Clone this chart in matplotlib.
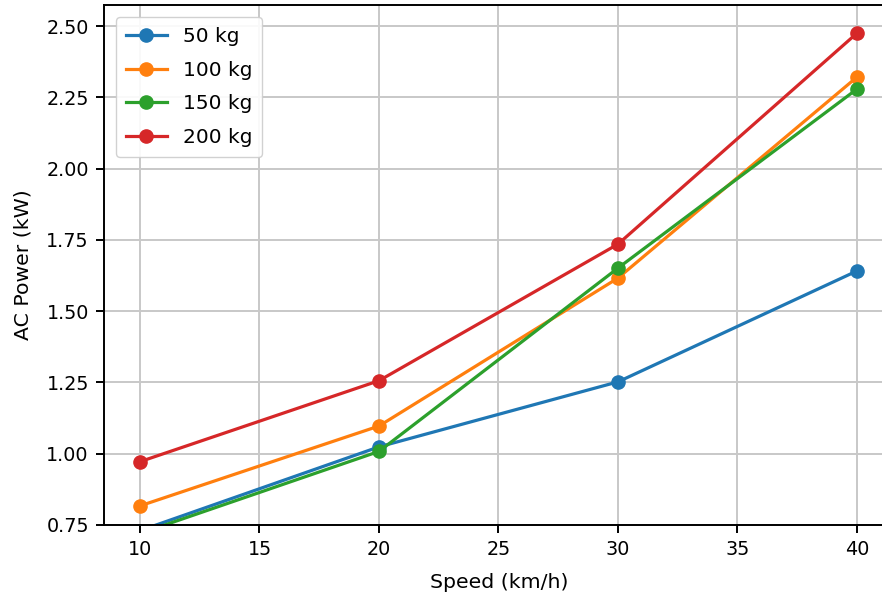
import matplotlib
matplotlib.use("Agg")
import matplotlib.pyplot as plt

# ── Data ─────────────────────────────────────────────────────────────────────
speeds = [10, 20, 30, 40]
power_50 = [0.73, 1.024, 1.252, 1.641]
power_100 = [0.817, 1.097, 1.616, 2.321]
power_150 = [0.72, 1.008, 1.651, 2.279]
power_200 = [0.972, 1.256, 1.735, 2.475]
labels = ["50 kg", "100 kg", "150 kg", "200 kg"]
colors = ["#1f77b4", "#ff7f0e", "#2ca02c", "#d62728"]

# ── Figure ───────────────────────────────────────────────────────────────────
fig = plt.figure(figsize=(8.82, 5.93), dpi=100, facecolor="white")
ax = fig.add_axes([0.118, 0.1147, 0.897, 0.877])

for ys, lab, c in zip([power_50, power_100, power_150, power_200], labels, colors):
    ax.plot(speeds, ys, marker="o", color=c, label=lab, lw=2.3, ms=9.5)

ax.set_xlim(8.5, 41.6)
ax.set_ylim(0.75, 2.574)
ax.set_xticks([10, 15, 20, 25, 30, 35, 40])
ax.set_yticks([0.75, 1.00, 1.25, 1.50, 1.75, 2.00, 2.25, 2.50])
ax.set_yticklabels([f"{v:.2f}" for v in ax.get_yticks()])
ax.tick_params(labelsize=13.8, width=1.4, length=6, pad=5)
for s in ax.spines.values():
    s.set_linewidth(1.4)

ax.grid(True, color="#c8c8c8", lw=1.4)
ax.set_xlabel("Speed (km/h)", fontsize=14.7, labelpad=10)
ax.set_ylabel("AC Power (kW)", fontsize=14.7, labelpad=10)
ax.legend(loc="upper left", fontsize=14.5, framealpha=0.9, labelspacing=0.72,
          borderpad=0.5, borderaxespad=0.6)

fig.savefig("out.png", dpi=100, facecolor="white")
